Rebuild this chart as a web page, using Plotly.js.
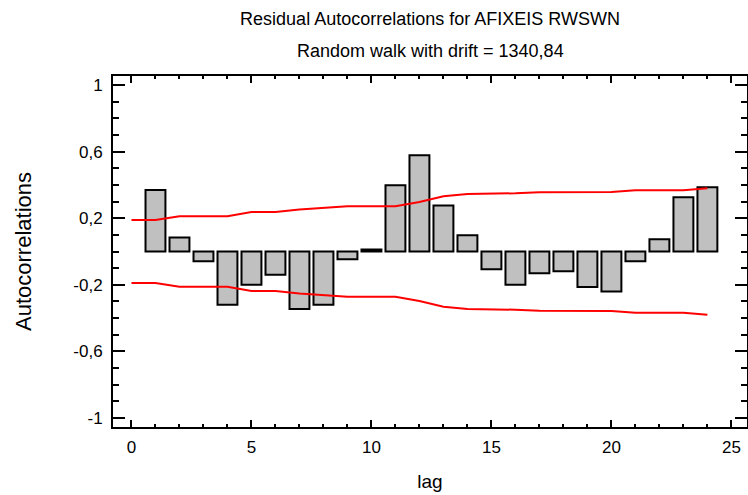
<!DOCTYPE html>
<html>
<head>
<meta charset="utf-8">
<script src="https://cdn.plot.ly/plotly-3.0.1.min.js"></script>
<style>html,body{margin:0;padding:0;background:#fff;}#chart{width:748px;height:495px;}</style>
</head>
<body>
<div id="chart"></div>
<script>
// Data
const lags = [1,2,3,4,5,6,7,8,9,10,11,12,13,14,15,16,17,18,19,20,21,22,23,24];
const autocorr = [0.37,0.084,-0.058,-0.32,-0.20,-0.14,-0.346,-0.32,-0.046,0.012,0.398,0.579,0.276,0.098,-0.106,-0.20,-0.13,-0.118,-0.214,-0.24,-0.058,0.074,0.326,0.386];
const limitLags = [0,1,2,3,4,5,6,7,8,9,10,11,12,13,14,15,16,17,18,19,20,21,22,23,24];
const upperLimit = [0.19,0.19,0.212,0.212,0.212,0.238,0.238,0.252,0.262,0.272,0.272,0.272,0.298,0.332,0.346,0.346,0.350,0.356,0.356,0.356,0.358,0.368,0.368,0.368,0.380];
const lowerLimit = upperLimit.map(v => -v);
const yTickVals = [-1,-0.6,-0.2,0.2,0.6,1];
const yTickText = ['-1','-0,6','-0,2','0,2','0,6','1'];
const xTickVals = [0,5,10,15,20,25];
const xTickText = ['0','5','10','15','20','25'];
const titleLine1 = 'Residual Autocorrelations for AFIXEIS RWSWN';
const titleLine2 = 'Random walk with drift = 1340,84';

const font = 'Liberation Sans, Arial, sans-serif';

const traces = [
  {
    type: 'bar', x: lags, y: autocorr, width: 0.83,
    marker: {color: '#c0c0c0', line: {color: '#000', width: 2}},
    hoverinfo: 'x+y', showlegend: false
  },
  {
    type: 'scatter', mode: 'lines', x: limitLags, y: upperLimit,
    line: {color: '#ff0000', width: 2}, showlegend: false
  },
  {
    type: 'scatter', mode: 'lines', x: limitLags, y: lowerLimit,
    line: {color: '#ff0000', width: 2}, showlegend: false
  }
];

const layout = {
  width: 748, height: 495,
  margin: {l: 113, r: 1, t: 76, b: 68},
  paper_bgcolor: '#fff', plot_bgcolor: '#fff',
  font: {family: font, color: '#000', size: 16},
  showlegend: false,
  bargap: 0,
  title: {
    text: titleLine1, font: {family: font, size: 18, color: '#000'},
    x: 0.5, xanchor: 'center', xref: 'paper',
    y: 1 - 19/495, yanchor: 'middle', yref: 'container'
  },
  annotations: [{
    text: titleLine2, showarrow: false,
    xref: 'paper', yref: 'paper', x: 0.5, y: (427-51)/351,
    xanchor: 'center', yanchor: 'middle',
    font: {family: font, size: 18, color: '#000'}
  }],
  xaxis: {
    range: [-0.77, 25.65],
    tickvals: xTickVals, ticktext: xTickText,
    ticks: 'inside', ticklen: 7, tickwidth: 2, tickcolor: '#000',
    minor: {dtick: 1, tick0: 0, ticks: 'inside', ticklen: 3, tickwidth: 2, tickcolor: '#000'},
    showline: true, linecolor: '#000', linewidth: 2, mirror: 'allticks',
    showgrid: false, zeroline: false,
    ticklabelstandoff: 4,
    tickfont: {family: font, size: 17, color: '#000'},
    title: {text: 'lag', font: {family: font, size: 19, color: '#000'}, standoff: 18}
  },
  yaxis: {
    range: [-1.055, 1.055],
    tickvals: yTickVals, ticktext: yTickText,
    ticks: 'inside', ticklen: 12, tickwidth: 2, tickcolor: '#000',
    minor: {dtick: 0.1, tick0: 0, ticks: 'inside', ticklen: 6, tickwidth: 2, tickcolor: '#000'},
    showline: true, linecolor: '#000', linewidth: 2, mirror: 'allticks',
    showgrid: false, zeroline: false,
    ticklabelstandoff: 5,
    tickfont: {family: font, size: 17, color: '#000'},
    title: {text: 'Autocorrelations', font: {family: font, size: 22, color: '#000'}, standoff: 36}
  }
};

Plotly.newPlot('chart', traces, layout, {displayModeBar: false, staticPlot: true});
</script>
</body>
</html>
